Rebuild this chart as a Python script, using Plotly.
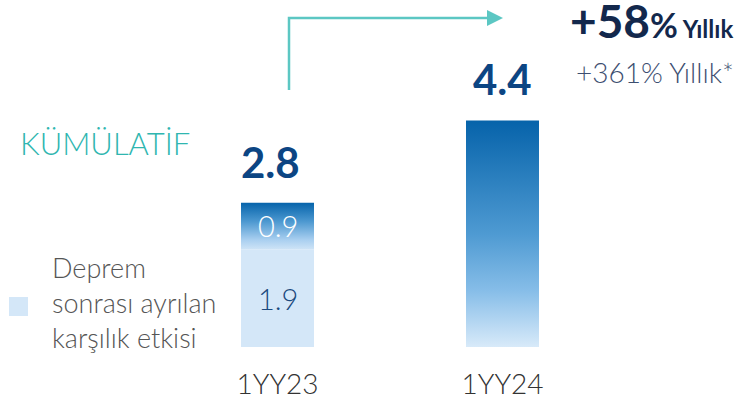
import plotly.graph_objects as go

# ---- data ----
categories = ["1YY23", "1YY24"]
provision_effect = [1.9, 0.0]      # Deprem sonrası ayrılan karşılık etkisi
other_part = [0.9, 4.4]
totals = [2.8, 4.4]
legend_label = "Deprem<br>sonrası ayrılan<br>karşılık etkisi"
section_title = "KÜMÜLATİF"
growth_main = "+58"
growth_pct = "%"
growth_word = "Yıllık"
growth_sub = "+361% Yıllık*"

W, H = 748, 401
BAR_HALF = 36.5 / 225.0
NAVY = "#0c4583"
LIGHT = "#d4e7f8"
TEAL = "#5cc7c3"
LIGHT_FONT = "Lato"

fig = go.Figure()


def rect(i, y0, y1):
    xs = [i - BAR_HALF, i + BAR_HALF, i + BAR_HALF, i - BAR_HALF, i - BAR_HALF]
    ys = [y0, y0, y1, y1, y0]
    return xs, ys


for i, cat in enumerate(categories):
    b = provision_effect[i]
    t = other_part[i]
    if b > 0:
        xs, ys = rect(i, 0, b)
        fig.add_trace(go.Scatter(x=xs, y=ys, fill="toself", mode="lines",
                                 line=dict(width=0), fillcolor=LIGHT,
                                 hoverinfo="skip", showlegend=False))
        cs = [[0, "#cde3f6"], [0.2, "#a9cff0"], [0.6, "#4c98d0"], [1, "#0664ab"]]
    else:
        cs = [[0, "#d8eaf9"], [0.25, "#86bde8"], [0.5, "#4e9ad2"], [1, "#0663aa"]]
    xs, ys = rect(i, b, b + t)
    fig.add_trace(go.Scatter(x=xs, y=ys, fill="toself", mode="lines",
                             line=dict(width=0),
                             fillgradient=dict(type="vertical", colorscale=cs),
                             hoverinfo="skip", showlegend=False))

# segment labels
fig.add_annotation(x=0, y=provision_effect[0] + other_part[0] / 2, text=f"{other_part[0]}",
                   showarrow=False, yanchor="middle",
                   font=dict(family=LIGHT_FONT, size=29, color="white", weight=300))
fig.add_annotation(x=0, y=provision_effect[0] / 2, text=f"{provision_effect[0]}",
                   showarrow=False, yanchor="middle",
                   font=dict(family=LIGHT_FONT, size=29, color="#1b4a7e", weight=300))

# totals
for i, tv in enumerate(totals):
    fig.add_annotation(x=i, y=tv, text=f"<b>{tv}</b>", showarrow=False, yanchor="bottom",
                       xshift=-7 if i == 0 else 0, yshift=14,
                       font=dict(family="Lato", size=42, color=NAVY, weight=900))

# section title
fig.add_annotation(x=18 / W, y=1 - 143 / H, xref="paper", yref="paper",
                   xanchor="left", yanchor="middle",
                   text=section_title, showarrow=False,
                   font=dict(family=LIGHT_FONT, size=31, color="#2fb6b0", weight=300))

# growth texts
fig.add_annotation(x=568 / W, y=1 - 21 / H, xref="paper", yref="paper",
                   xanchor="left", yanchor="middle",
                   text=f"<b>{growth_main}</b><span style='font-size:34px'><b>{growth_pct}</b></span>"
                        f"<span style='font-size:24px'><b> {growth_word}</b></span>",
                   showarrow=False, font=dict(family="Lato", size=46, color="#13284c"))
fig.add_annotation(x=574 / W, y=1 - 72 / H, xref="paper", yref="paper",
                   xanchor="left", yanchor="middle",
                   text=growth_sub, showarrow=False,
                   font=dict(family=LIGHT_FONT, size=28, color="#3d4e70", weight=300))

# legend
fig.add_shape(type="rect", xref="paper", yref="paper",
              x0=9 / W, x1=28 / W, y0=1 - 316 / H, y1=1 - 297 / H,
              fillcolor=LIGHT, line=dict(width=0))
fig.add_annotation(x=50 / W, y=1 - 302 / H, xref="paper", yref="paper",
                   xanchor="left", yanchor="middle",
                   align="left", text=legend_label, showarrow=False,
                   font=dict(family=LIGHT_FONT, size=27, color="#555555", weight=300))

# arrow
fig.add_shape(type="path", xref="paper", yref="paper",
              path=f"M {289/W} {1-90/H} L {289/W} {1-18/H} L {489/W} {1-18/H}",
              line=dict(color=TEAL, width=2.5))
fig.add_shape(type="path", xref="paper", yref="paper",
              path=f"M {487/W} {1-10/H} L {503/W} {1-18/H} L {487/W} {1-26/H} Z",
              fillcolor=TEAL, line=dict(width=0))

fig.update_layout(
    width=W, height=H, margin=dict(l=0, r=0, t=0, b=0),
    paper_bgcolor="white", plot_bgcolor="white",
    xaxis=dict(range=[-277.5 / 225, (W - 277.5) / 225], tickvals=list(range(len(categories))),
               ticktext=categories, showgrid=False, zeroline=False, showline=False,
               ticks="outside", ticklen=12, tickcolor="rgba(0,0,0,0)",
               tickfont=dict(family=LIGHT_FONT, size=28, color="#333333", weight=300),
               automargin=False, fixedrange=True),
    yaxis=dict(domain=[(H - 347) / H, 1], range=[0, 347 / 51.5], visible=False,
               automargin=False, fixedrange=True),
    showlegend=False,
)

fig.write_html("out.html", config={"displayModeBar": False},
               post_script="document.body.style.margin='0px';document.body.style.overflow='hidden';")
